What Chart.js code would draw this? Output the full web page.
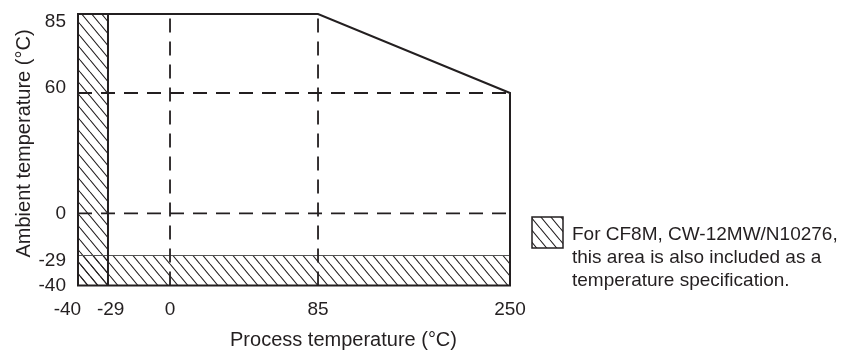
<!DOCTYPE html>
<html>
<head>
<meta charset="utf-8">
<script src="https://cdn.jsdelivr.net/npm/chart.js@4.4.1/dist/chart.umd.min.js"></script>
<style>
  html, body { margin: 0; padding: 0; background: #ffffff; }
  #wrap { width: 846px; height: 351px; position: relative; }
</style>
</head>
<body>
<div id="wrap"><canvas id="chart"></canvas></div>
<script>
// Axis ranges and tick values (°C)
const processRange = [-40, 250];
const ambientRange = [-40, 85];
const processTicks = [-40, -29, 0, 85, 250];
const ambientTicks = [-40, -29, 0, 60, 85];

// Corners of the standard operating envelope (process °C, ambient °C)
const envelopeProcess = [-40, 85, 250, 250, -40, -40];
const envelopeAmbient = [85, 85, 60, -40, -40, 85];

// Dashed guide lines
const processGuides = [0, 85];
const ambientGuides = [60, 0];

// Lower limits of the standard range; below them lies the extended range
const extendedProcessLimit = -29;
const extendedAmbientLimit = -29;

const xTitle = 'Process temperature (°C)';
const yTitle = 'Ambient temperature (°C)';
const noteLines = [
  'For CF8M, CW-12MW/N10276,',
  'this area is also included as a',
  'temperature specification.'
];

const INK = '#231f20';
const FONT = '"Liberation Sans", Arial, Helvetica, sans-serif';

// Small label nudges so that neighbouring tick labels do not crowd each other
const xLabelPad = { '-40': { before: 0, after: 4 }, '-29': { before: 1, after: 0 } };
const yLabelNudge = { '85': 8, '60': -5.5, '-29': 5 };

// Linear scale whose segments between stops get their own share of the axis length
class SegmentedScale extends Chart.LinearScale {
  _toDecimal(v) {
    const s = this.options.stops, f = this.options.fractions;
    let i = 1;
    while (i < s.length - 1 && v > s[i]) i++;
    return f[i - 1] + (v - s[i - 1]) * (f[i] - f[i - 1]) / (s[i] - s[i - 1]);
  }
  getPixelForValue(value) {
    if (value === null || value === undefined || isNaN(value)) return NaN;
    return this.getPixelForDecimal(this._toDecimal(value));
  }
  getValueForPixel(pixel) {
    const d = this.getDecimalForPixel(pixel);
    const s = this.options.stops, f = this.options.fractions;
    let i = 1;
    while (i < f.length - 1 && d > f[i]) i++;
    return s[i - 1] + (d - f[i - 1]) * (s[i] - s[i - 1]) / (f[i] - f[i - 1]);
  }
}
SegmentedScale.id = 'segmented';
SegmentedScale.defaults = {};
Chart.register(SegmentedScale);

// Diagonal hatching used for the extended range
function makeHatch() {
  const tile = document.createElement('canvas');
  tile.width = 10; tile.height = 12;
  const t = tile.getContext('2d');
  t.strokeStyle = INK;
  t.lineWidth = 1.1;
  t.beginPath();
  for (const dx of [-10, 0, 10]) { t.moveTo(dx, 0); t.lineTo(dx + 10, 12); }
  t.stroke();
  return t.createPattern(tile, 'repeat');
}
const hatch = makeHatch();

const pts = (xs, ys) => xs.map((x, i) => ({ x, y: ys[i] }));

const lineBase = { pointRadius: 0, tension: 0, fill: false, clip: false, borderColor: INK };

const datasets = [
  // envelope outline
  Object.assign({}, lineBase, {
    data: pts(envelopeProcess, envelopeAmbient),
    borderWidth: 2, borderJoinStyle: 'miter', borderCapStyle: 'square'
  }),
  // right edge of the extended column
  Object.assign({}, lineBase, {
    data: pts([extendedProcessLimit, extendedProcessLimit], [ambientRange[1], ambientRange[0]]),
    borderWidth: 2
  }),
  // dashed guides
  ...processGuides.map(v => Object.assign({}, lineBase, {
    data: pts([v, v], ambientRange), borderWidth: 1.8, borderDash: [14, 9]
  })),
  ...ambientGuides.map(v => Object.assign({}, lineBase, {
    data: pts(processRange, [v, v]), borderWidth: 1.8, borderDash: [14, 9]
  })),
  // hatched strip below the ambient limit
  Object.assign({}, lineBase, {
    data: pts(processRange, [extendedAmbientLimit, extendedAmbientLimit]),
    borderColor: '#555555', borderWidth: 1.2,
    fill: { value: ambientRange[0] }, backgroundColor: hatch
  }),
  // hatched column left of the process limit
  Object.assign({}, lineBase, {
    data: pts([processRange[0], extendedProcessLimit], [ambientRange[1], ambientRange[1]]),
    borderWidth: 0,
    fill: { value: ambientRange[0] }, backgroundColor: hatch
  })
];

// Axis titles and the hatched note
const captionPlugin = {
  id: 'captions',
  afterDraw(chart, _args, o) {
    const ctx = chart.ctx;
    ctx.save();
    ctx.fillStyle = INK;
    ctx.font = o.titleSize + 'px ' + FONT;
    ctx.textAlign = 'center';
    ctx.textBaseline = 'alphabetic';
    ctx.fillText(xTitle, o.xTitle.x, o.xTitle.y);
    ctx.save();
    ctx.translate(o.yTitle.x, o.yTitle.y);
    ctx.rotate(-Math.PI / 2);
    ctx.fillText(yTitle, 0, 0);
    ctx.restore();

    const b = o.noteBox;
    ctx.fillStyle = hatch;
    ctx.fillRect(b.x, b.y, b.size, b.size);
    ctx.strokeStyle = INK;
    ctx.lineWidth = 1.5;
    ctx.strokeRect(b.x, b.y, b.size, b.size);

    ctx.fillStyle = INK;
    ctx.font = o.noteSize + 'px ' + FONT;
    ctx.textAlign = 'left';
    noteLines.forEach((line, i) => ctx.fillText(line, o.noteText.x, o.noteText.y + i * o.noteText.gap));
    ctx.restore();
  }
};

new Chart(document.getElementById('chart'), {
  type: 'line',
  data: { datasets },
  plugins: [captionPlugin],
  options: {
    responsive: true,
    maintainAspectRatio: false,
    animation: false,
    events: [],
    layout: { padding: { left: 0, top: 14, right: 336, bottom: 0 } },
    font: { family: FONT },
    scales: {
      x: {
        type: 'segmented',
        position: 'bottom',
        min: processRange[0], max: processRange[1],
        stops: processTicks,
        fractions: [0, 0.0694, 0.2130, 0.5556, 1],
        grid: { display: false, drawTicks: false },
        border: { display: false },
        ticks: {
          color: INK, padding: 13, maxRotation: 0, autoSkip: false,
          font: { family: FONT, size: 19 },
          callback: v => {
            const p = xLabelPad[String(v)] || { before: 0, after: 0 };
            return ' '.repeat(p.before) + String(v) + ' '.repeat(p.after);
          }
        },
        afterBuildTicks: s => { s.ticks = processTicks.map(v => ({ value: v })); },
        afterFit: s => { s.height = 65.5; s.paddingLeft = 0; s.paddingRight = 0; }
      },
      y: {
        type: 'segmented',
        position: 'left',
        min: ambientRange[0], max: ambientRange[1],
        stops: ambientTicks,
        fractions: [0, 0.1105, 0.2659, 0.7090, 1],
        grid: { display: false, drawTicks: false },
        border: { display: false },
        ticks: {
          color: INK, padding: 12, autoSkip: false,
          font: c => {
            const n = c.tick ? yLabelNudge[String(c.tick.value)] : undefined;
            return { family: FONT, size: 19, lineHeight: n ? (Math.abs(n) * 2) + 'px' : 1.2 };
          },
          callback: v => {
            const n = yLabelNudge[String(v)];
            if (!n) return String(v);
            return n > 0 ? ['', String(v)] : [String(v), ''];
          }
        },
        afterBuildTicks: s => { s.ticks = ambientTicks.map(v => ({ value: v })); },
        afterFit: s => { s.width = 78; s.paddingTop = 0; s.paddingBottom = 0; }
      }
    },
    plugins: {
      legend: { display: false },
      tooltip: { enabled: false },
      captions: {
        titleSize: 20,
        noteSize: 19,
        xTitle: { x: 343.5, y: 346 },
        yTitle: { x: 30, y: 143.5 },
        noteBox: { x: 532, y: 217, size: 31 },
        noteText: { x: 572, y: 239.5, gap: 23.3 }
      }
    }
  }
});
</script>
</body>
</html>
